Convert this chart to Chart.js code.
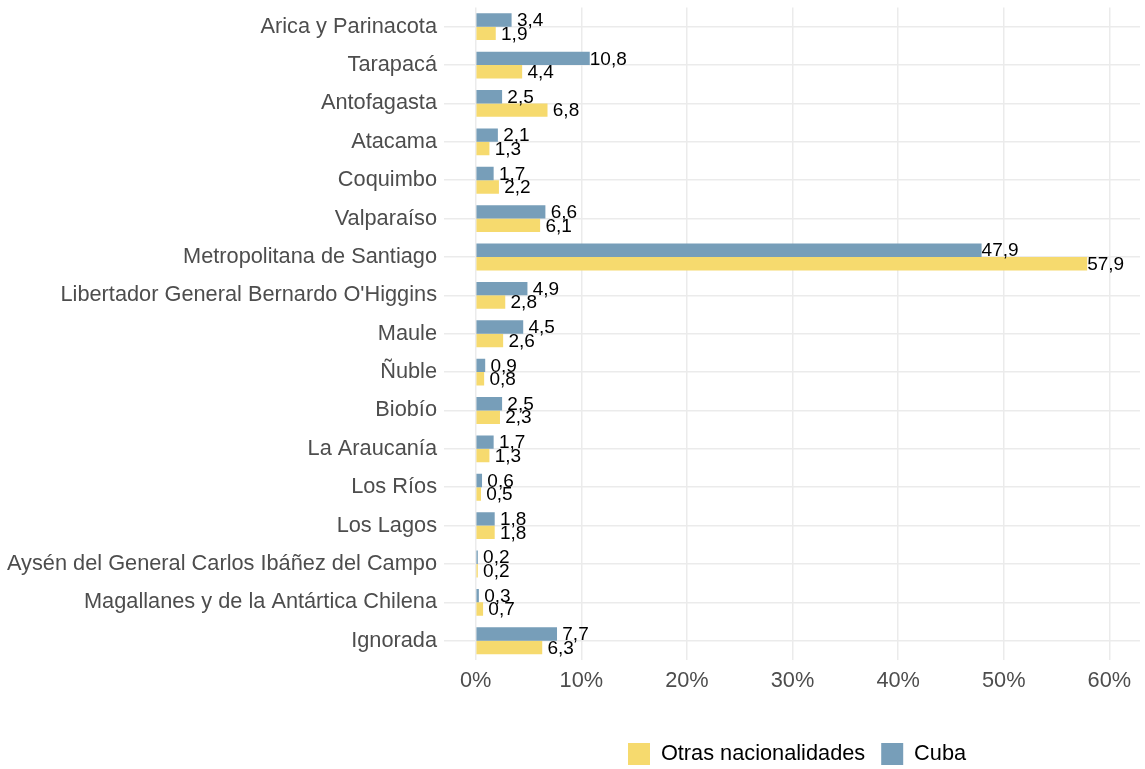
<!DOCTYPE html>
<html>
<head>
<meta charset="utf-8">
<script src="https://cdn.jsdelivr.net/npm/chart.js@4/dist/chart.umd.min.js"></script>
<style>
  html, body { margin: 0; padding: 0; background: #ffffff; }
  #wrap { width: 1145px; height: 769px; position: relative; }
</style>
</head>
<body>
<div id="wrap"><canvas id="c"></canvas></div>
<script>
const regiones = [
  "Arica y Parinacota", "Tarapacá", "Antofagasta", "Atacama", "Coquimbo",
  "Valparaíso", "Metropolitana de Santiago", "Libertador General Bernardo O'Higgins",
  "Maule", "Ñuble", "Biobío", "La Araucanía", "Los Ríos", "Los Lagos",
  "Aysén del General Carlos Ibáñez del Campo", "Magallanes y de la Antártica Chilena", "Ignorada"
];
const cuba = [3.4, 10.8, 2.5, 2.1, 1.7, 6.6, 47.9, 4.9, 4.5, 0.9, 2.5, 1.7, 0.6, 1.8, 0.2, 0.3, 7.7];
const otras = [1.9, 4.4, 6.8, 1.3, 2.2, 6.1, 57.9, 2.8, 2.6, 0.8, 2.3, 1.3, 0.5, 1.8, 0.2, 0.7, 6.3];
const xTicks = [0, 10, 20, 30, 40, 50, 60];
const seriesNames = ["Cuba", "Otras nacionalidades"];

const BLUE = '#779EB9';
const YELLOW = '#F6DA6E';
const GRID = '#EBEBEB';
const FONT = "'Liberation Sans', Arial, Helvetica, sans-serif";

Chart.defaults.font.family = FONT;

function fmt(v) {
  const s = v.toFixed(1).replace('.', ',');
  return v < 10 ? ' ' + s : s;
}

const valueLabels = {
  id: 'valueLabels',
  afterDatasetsDraw(chart) {
    const ctx = chart.ctx;
    ctx.save();
    ctx.font = '19px ' + FONT;
    ctx.fillStyle = '#000000';
    ctx.textAlign = 'left';
    ctx.textBaseline = 'middle';
    chart.data.datasets.forEach((ds, di) => {
      const meta = chart.getDatasetMeta(di);
      meta.data.forEach((el, i) => {
        ctx.fillText(fmt(ds.data[i]), el.x, el.y + 1);
      });
    });
    ctx.restore();
  }
};

const legendPlace = {
  id: 'legendPlace',
  afterLayout(chart) {
    const lg = chart.legend;
    if (!lg) return;
    const h = lg.height;
    lg.left = 612;
    lg.right = 1145;
    lg.top = 727;
    lg.bottom = 727 + h;
  }
};

new Chart(document.getElementById('c'), {
  type: 'bar',
  data: {
    labels: regiones,
    datasets: [
      { label: seriesNames[0], data: cuba, backgroundColor: BLUE, borderWidth: 0,
        categoryPercentage: 0.7, barPercentage: 1.0 },
      { label: seriesNames[1], data: otras, backgroundColor: YELLOW, borderWidth: 0,
        categoryPercentage: 0.7, barPercentage: 1.0 }
    ]
  },
  options: {
    indexAxis: 'y',
    responsive: true,
    maintainAspectRatio: false,
    animation: false,
    layout: { padding: { top: 7.5, left: 0, right: 5, bottom: 0 } },
    scales: {
      x: {
        type: 'linear',
        min: -3.0,
        max: 62.9,
        afterBuildTicks(scale) { scale.ticks = xTicks.map(v => ({ value: v })); },
        afterFit(scale) { scale.height = 61.1; scale.paddingLeft = 0; scale.paddingRight = 0; },
        grid: { color: GRID, lineWidth: 1.5, drawTicks: false },
        border: { display: false },
        ticks: {
          padding: 8,
          color: '#4D4D4D',
          font: { size: 21.75 },
          callback: v => v + '%',
          maxRotation: 0
        }
      },
      y: {
        afterFit(scale) { scale.paddingTop = 0; scale.paddingBottom = 0; },
        grid: { color: GRID, lineWidth: 1.5, drawTicks: false, offset: false },
        border: { display: false },
        ticks: {
          padding: 7,
          color: '#4D4D4D',
          font: { size: 21.75 },
          autoSkip: false
        }
      }
    },
    plugins: {
      legend: {
        position: 'bottom',
        align: 'start',
        reverse: true,
        labels: {
          boxWidth: 22,
          boxHeight: 22,
          padding: 16,
          color: '#000000',
          font: { size: 21.75 }
        }
      },
      tooltip: { enabled: false }
    }
  },
  plugins: [valueLabels, legendPlace]
});
</script>
</body>
</html>
